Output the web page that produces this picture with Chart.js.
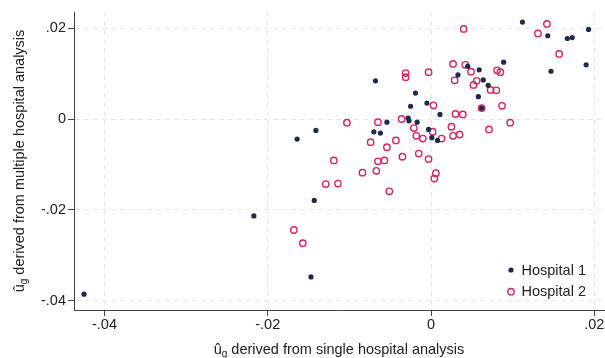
<!DOCTYPE html>
<html>
<head>
<meta charset="utf-8">
<script src="https://cdn.jsdelivr.net/npm/chart.js@4.4.0/dist/chart.umd.min.js"></script>
<style>
html,body{margin:0;padding:0;background:#fff;}
#wrap{width:605px;height:358px;}
</style>
</head>
<body>
<div id="wrap"><canvas id="chart" width="605" height="358"></canvas></div>
<script>
// values
const hosp1X = [-0.0425,-0.0217,-0.0164,-0.0141,-0.0143,-0.0147,-0.0068,-0.0070,-0.0062,-0.0054,
    -0.0028,-0.0027,-0.0025,-0.0019,-0.0017,-0.0005,-0.0003,0.0001,0.0008,0.0011,
    0.0033,0.0045,0.0059,0.0064,0.0070,0.0058,0.0062,0.0089,0.0112,0.0143,
    0.0147,0.0167,0.0173,0.0190,0.0193];
const hosp1Y = [-0.0385,-0.0213,-0.0044,-0.0025,-0.0179,-0.0347,0.0084,-0.0028,-0.0031,-0.0007,
    0.0002,-0.0004,0.0028,0.0057,-0.0007,0.0035,-0.0023,-0.0041,-0.0047,0.0010,
    0.0097,0.0116,0.0108,0.0086,0.0074,0.0049,0.0024,0.0125,0.0213,0.0183,
    0.0105,0.0177,0.0179,0.0119,0.0197];
const hosp2X = [-0.0168,-0.0157,-0.0129,-0.0114,-0.0119,-0.0103,-0.0084,-0.0067,-0.0074,-0.0065,
    -0.0057,-0.0054,-0.0051,-0.0065,-0.0043,-0.0036,-0.0035,-0.0031,-0.0031,-0.0021,
    -0.0018,-0.0010,-0.0015,-0.0003,0.0003,0.0002,-0.0003,0.0006,0.0004,0.0013,
    0.0025,0.0027,0.0035,0.0030,0.0039,0.0027,0.0029,0.0040,0.0042,0.0049,
    0.0056,0.0052,0.0062,0.0071,0.0073,0.0080,0.0081,0.0085,0.0087,0.0097,
    0.0131,0.0142,0.0157];
const hosp2Y = [-0.0244,-0.0273,-0.0143,-0.0142,-0.0091,-0.0008,-0.0118,-0.0114,-0.0051,-0.0093,
    -0.0091,-0.0062,-0.0159,-0.0007,-0.0047,0.0000,-0.0083,0.0101,0.0092,-0.0020,
    -0.0037,-0.0043,-0.0076,0.0103,0.0030,-0.0028,-0.0088,-0.0119,-0.0131,-0.0043,
    -0.0017,-0.0037,-0.0034,0.0011,0.0010,0.0121,0.0085,0.0198,0.0119,0.0104,
    0.0084,0.0075,0.0024,-0.0023,0.0064,0.0063,0.0107,0.0103,0.0029,-0.0008,
    0.0188,0.0209,0.0143];

const seriesNames = ['Hospital 1', 'Hospital 2'];
const xTicks = [-0.04, -0.02, 0, 0.02];
const xTickLabels = ['-.04', '-.02', '0', '.02'];
const yTicks = [-0.04, -0.02, 0, 0.02];
const yTickLabels = ['-.04', '-.02', '0', '.02'];
const xTitle = ' derived from single hospital analysis';
const yTitle = ' derived from multiple hospital analysis';

const NAVY = '#1c2a4e';
const PINK = '#d8245a';
const FONT = '"Liberation Sans", Arial, sans-serif';

function toPoints(xs, ys){
    return xs.map((x, i) => ({x: x, y: ys[i]}));
}

// û with subscript g, then the rest of the title
function drawUgLabel(ctx, rest, cx, baseY){
    ctx.font = '14.5px ' + FONT;
    const w1 = ctx.measureText('û').width;
    const w3 = ctx.measureText(rest).width;
    ctx.font = '10px ' + FONT;
    const w2 = ctx.measureText('g').width;
    let x = cx - (w1 + w2 + w3) / 2;
    ctx.textAlign = 'left';
    ctx.textBaseline = 'alphabetic';
    ctx.font = '14.5px ' + FONT;
    ctx.fillText('û', x, baseY);
    ctx.font = '10px ' + FONT;
    ctx.fillText('g', x + w1, baseY + 3);
    ctx.font = '14.5px ' + FONT;
    ctx.fillText(rest, x + w1 + w2, baseY);
}

const extras = {
    id: 'extras',
    afterDraw(chart){
        const ctx = chart.ctx;
        const area = chart.chartArea;
        ctx.save();
        ctx.fillStyle = '#222';
        drawUgLabel(ctx, xTitle, (area.left + area.right) / 2, 353.5);
        ctx.save();
        ctx.translate(24, (area.top + area.bottom) / 2);
        ctx.rotate(-Math.PI / 2);
        drawUgLabel(ctx, yTitle, 0, 0);
        ctx.restore();

        // legend inside the plot, bottom right
        const rows = [270, 291.7];
        chart.data.datasets.forEach((ds, i) => {
            const y = rows[i];
            ctx.beginPath();
            ctx.arc(511, y, ds.pointRadius, 0, Math.PI * 2);
            if (ds.pointBorderWidth > 0) {
                ctx.lineWidth = ds.pointBorderWidth;
                ctx.strokeStyle = ds.pointBorderColor;
                ctx.stroke();
            } else {
                ctx.fillStyle = ds.pointBackgroundColor;
                ctx.fill();
            }
            ctx.fillStyle = '#222';
            ctx.font = '14.5px ' + FONT;
            ctx.textAlign = 'left';
            ctx.textBaseline = 'middle';
            ctx.fillText(ds.label, 521.5, y + 0.5);
        });
        ctx.restore();
    }
};

new Chart(document.getElementById('chart'), {
    type: 'scatter',
    data: {
        datasets: [
            {
                label: seriesNames[0],
                data: toPoints(hosp1X, hosp1Y),
                pointRadius: 2.6,
                pointBackgroundColor: NAVY,
                pointBorderColor: NAVY,
                pointBorderWidth: 0
            },
            {
                label: seriesNames[1],
                data: toPoints(hosp2X, hosp2Y),
                pointRadius: 3.2,
                pointBackgroundColor: 'rgba(0,0,0,0)',
                pointBorderColor: PINK,
                pointBorderWidth: 1.4
            }
        ]
    },
    options: {
        responsive: false,
        devicePixelRatio: 1,
        animation: false,
        layout: { autoPadding: false, padding: { top: 12, right: 1, left: 0, bottom: 0 } },
        plugins: {
            legend: { display: false },
            tooltip: { enabled: false }
        },
        scales: {
            x: {
                type: 'linear',
                min: -0.04373,
                max: 0.02119,
                afterBuildTicks: s => { s.ticks = xTicks.map(v => ({value: v})); },
                afterFit: s => { s.height = 48; s.paddingLeft = 0; s.paddingRight = 0; },
                ticks: {
                    callback: (v, i) => xTickLabels[i],
                    color: '#222',
                    font: { family: FONT, size: 14.5 },
                    padding: 0,
                    maxRotation: 0
                },
                grid: {
                    color: '#e6e6e6',
                    lineWidth: 1,
                    tickColor: '#444',
                    tickLength: 6
                },
                border: { display: true, color: '#444', width: 1, dash: [5, 4] }
            },
            y: {
                type: 'linear',
                min: -0.04198,
                max: 0.02352,
                afterBuildTicks: s => { s.ticks = yTicks.map(v => ({value: v})); },
                afterFit: s => { s.width = 74; s.paddingTop = 0; s.paddingBottom = 0; },
                ticks: {
                    callback: (v, i) => yTickLabels[i],
                    color: '#222',
                    font: { family: FONT, size: 14.5 },
                    padding: 2
                },
                grid: {
                    color: '#e6e6e6',
                    lineWidth: 1,
                    tickColor: '#444',
                    tickLength: 6
                },
                border: { display: true, color: '#444', width: 1, dash: [5, 4] }
            }
        }
    },
    plugins: [extras]
});
</script>
</body>
</html>
